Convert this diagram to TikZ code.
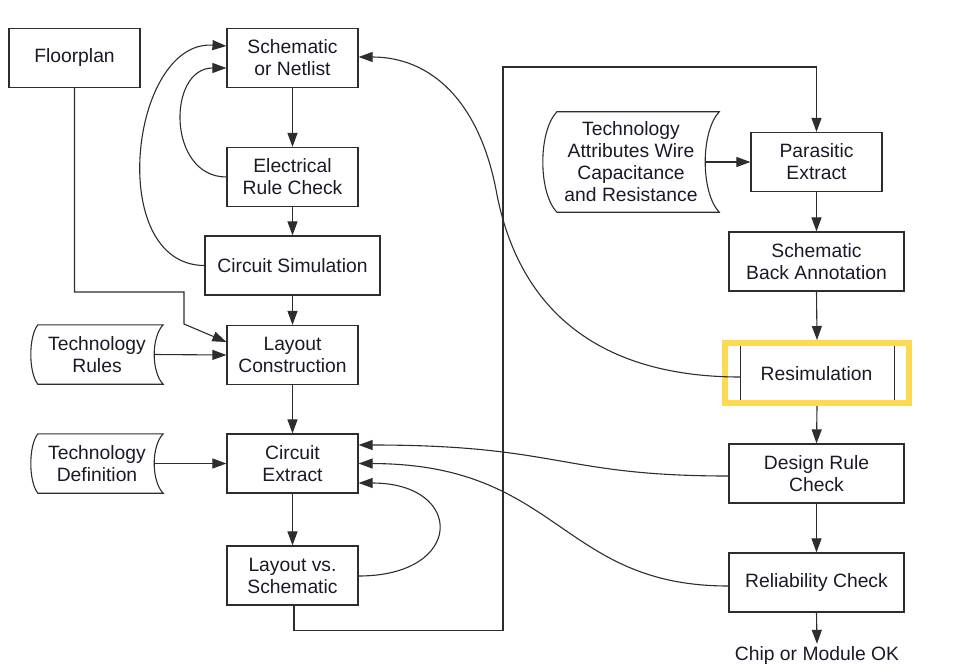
\documentclass[tikz,border=0pt]{standalone}
\usepackage{fontspec}
\setmainfont{Liberation Sans}
\usetikzlibrary{arrows.meta,calc}
\definecolor{ink}{RGB}{45,45,45}
\definecolor{txt}{RGB}{25,25,40}
\definecolor{hilite}{RGB}{253,218,82}

% data-store outline around a node: #1 node, #2 left bulge, #3 right bulge, #4 control offset
\newcommand{\storeshape}[4]{%
  \draw[link] ($(#1.north west)+(#2,0)$) -- (#1.north east)
    .. controls ($(#1.north east)+({-4/3*#3},#4)$) and ($(#1.south east)+({-4/3*#3},-#4)$) .. (#1.south east)
    -- ($(#1.south west)+(#2,0)$)
    .. controls ($(#1.south west)+({-#2/3},-#4)$) and ($(#1.north west)+({-#2/3},#4)$) .. ($(#1.north west)+(#2,0)$) -- cycle;}

\begin{document}
\begin{tikzpicture}[x=1pt,y=-1pt,
  every node/.style={font=\fontsize{19.3}{22}\selectfont, text=txt, align=center, inner sep=0pt},
  box/.style={draw=ink, line width=1.2pt, minimum width=131pt, minimum height=59pt},
  widebox/.style={box, minimum width=175pt},
  store/.style={minimum height=59pt},
  link/.style={draw=ink, line width=1.1pt},
  arr/.style={link, -{Triangle[length=14pt,width=10pt]}},
]
\useasboundingbox (0,0) rectangle (957,666);

% left column
\node[box] (floor) at (74.5,58) {Floorplan};
\node[box] (schem) at (292.5,58) {Schematic\\or Netlist};
\node[box] (erc)   at (292.5,177) {Electrical\\Rule Check};
\node[widebox] (csim) at (292.5,265.5) {Circuit Simulation};
\node[box] (layc)  at (292.5,355) {Layout\\Construction};
\node[box] (cext)  at (292.5,463.5) {Circuit\\Extract};
\node[box] (lvs)   at (292.5,575.5) {Layout vs.\\Schematic};

% technology inputs
\node[store, minimum width=132pt] (trules) at (97,354.5) {Technology\\Rules};
\node[store, minimum width=132pt] (tdef)   at (97,463.5) {Technology\\Definition};
\node[minimum width=176pt, minimum height=100pt] (tattr) at (631,162) {Technology\\Attributes Wire\\Capacitance\\and Resistance};
\storeshape{trules}{7}{9}{12}
\storeshape{tdef}{7}{9}{12}
\storeshape{tattr}{14}{14}{20}

% right column
\node[box] (parx)  at (816.5,162) {Parasitic\\Extract};
\node[widebox] (sba) at (816.5,261.5) {Schematic\\Back Annotation};
\node[widebox, draw=none, minimum height=60pt] (resim) at (816.5,374) {Resimulation};
\draw[link] ($(resim.north west)+(12,0)$) -- ($(resim.south west)+(12,0)$);
\draw[link] ($(resim.north east)+(-10,0)$) -- ($(resim.south east)+(-10,0)$);
\node[draw=hilite, line width=6pt, minimum width=184pt, minimum height=60pt] (hl) at (817,373) {};
\node[widebox] (drc) at (816.5,473.5) {Design Rule\\Check};
\node[widebox] (rel) at (816.5,582.5) {Reliability Check};
\node (ok) at (817,656) {Chip or Module OK};

% main flow
\draw[arr] (schem) -- (erc);
\draw[arr] (erc) -- (csim);
\draw[arr] (csim) -- (layc);
\draw[arr] (layc) -- (cext);
\draw[arr] (cext) -- (lvs);
\draw[arr] (parx) -- (sba);
\draw[arr] (sba.south) -- (hl.north);
\draw[arr] (hl.south) -- (drc.north);
\draw[arr] (drc) -- (rel);
\draw[arr] (rel.south) -- ($(ok.north)+(0,-3)$);

% inputs
\draw[arr] (floor.south) |- (184,292) -- (184,324) -- ($(layc.west)+(0,-13)$);
\draw[arr] ($(trules.east)+(-9,0)$) -- (layc.west);
\draw[arr] ($(tdef.east)+(-9,0)$) -- (cext.west);
\draw[arr] ($(tattr.east)+(-14,0)$) -- (parx.west);

% feedback loops
\draw[arr] (erc.west) .. controls (167,177) and (167,68) .. ($(schem.west)+(0,10)$);
\draw[arr] (csim.west) .. controls (105,265) and (130,40) .. ($(schem.west)+(0,-12)$);
\draw[arr] ($(lvs.east)+(0,0.5)$) .. controls (465,576) and (465,483) .. ($(cext.east)+(0,19.5)$);
\draw[arr] ($(resim.west)+(12,3)$) .. controls (610,377) and (522,320) .. (497,195)
  .. controls (480,100) and (430,57) .. ($(schem.east)+(0,-1)$);
\draw[arr] ($(drc.west)+(0,2.5)$) .. controls (560,476) and (560,445) .. ($(cext.east)+(0,-18.5)$);
\draw[arr] ($(rel.west)+(0,3.5)$) .. controls (560,586) and (560,464) .. (cext.east);

% layout vs. schematic result to parasitic extraction
\draw[arr] ($(lvs.south)+(1.5,0)$) -- ++(0,25) -| (503,67) -| (parx.north);
\end{tikzpicture}
\end{document}
